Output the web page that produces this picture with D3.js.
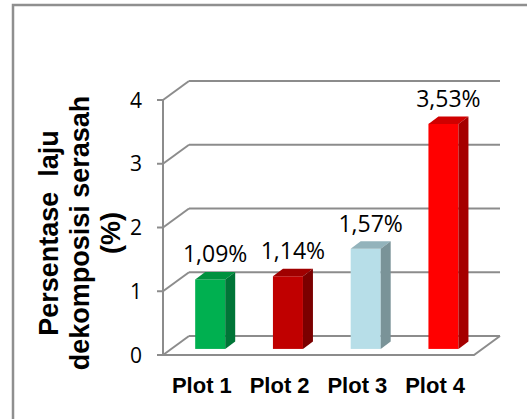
<!DOCTYPE html>
<html>
<head>
<meta charset="utf-8">
<script src="https://cdn.jsdelivr.net/npm/d3@7"></script>
<style>
    body { margin: 0; background: #fff; }
    svg { display: block; }
</style>
</head>
<body>
<script>
//chart data
var categories = ["Plot 1", "Plot 2", "Plot 3", "Plot 4"];
var values = [1.09, 1.14, 1.57, 3.53];
var valueLabels = ["1,09%", "1,14%", "1,57%", "3,53%"];
var yTicks = [0, 1, 2, 3, 4];
var titleLines = ["Persentase\u00a0 laju", "dekomposisi serasah", "(%)"];

//bar colours: front, top, side
var frontColors = ["#00b050", "#c00000", "#b7dee8", "#ff0000"];
var topColors = ["#00913f", "#a00000", "#93b3bb", "#d00000"];
var sideColors = ["#007537", "#7b0000", "#7a9398", "#a50000"];

window.onload = drawChart();

function drawChart(){
    var width = 527,
        height = 419;

    var svg = d3.select("body")
        .append("svg")
        .attr("width", width)
        .attr("height", height);

    //outer chart frame
    svg.append("rect")
        .attr("x", 13)
        .attr("y", 5)
        .attr("width", 600)
        .attr("height", 600)
        .attr("fill", "none")
        .attr("stroke", "#8f8f8f")
        .attr("stroke-width", 2.5);

    //3d depth offset of the back wall
    var depthX = 26,
        depthY = 19;

    var x = d3.scaleBand()
        .domain(categories)
        .range([163, 474]);

    var xBar = d3.scaleBand()
        .domain(categories)
        .range([163, 474])
        .paddingInner(0.614)
        .paddingOuter(0.307);

    var y = d3.scaleLinear()
        .domain([0, 4])
        .range([355, 100]);

    var gridColor = "#8c8c8c";

    //back wall grid lines + side diagonals
    var grid = svg.append("g").attr("class", "grid");

    grid.selectAll(".back")
        .data(yTicks)
        .enter()
        .append("line")
        .attr("x1", x.range()[0] + depthX)
        .attr("x2", x.range()[1] + depthX)
        .attr("y1", function(d){ return y(d) - depthY; })
        .attr("y2", function(d){ return y(d) - depthY; })
        .attr("stroke", gridColor)
        .attr("stroke-width", 2);

    grid.selectAll(".diag")
        .data(yTicks)
        .enter()
        .append("line")
        .attr("x1", x.range()[0])
        .attr("x2", x.range()[0] + depthX)
        .attr("y1", function(d){ return y(d); })
        .attr("y2", function(d){ return y(d) - depthY; })
        .attr("stroke", gridColor)
        .attr("stroke-width", 2);

    //floor front edge and right edge
    grid.append("path")
        .attr("d", d3.line()([
            [x.range()[0], y(0)],
            [x.range()[1], y(0)],
            [x.range()[1] + depthX, y(0) - depthY]
        ]))
        .attr("fill", "none")
        .attr("stroke", gridColor)
        .attr("stroke-width", 2);

    //front value axis
    grid.append("line")
        .attr("x1", x.range()[0])
        .attr("x2", x.range()[0])
        .attr("y1", y(0))
        .attr("y2", y(4))
        .attr("stroke", gridColor)
        .attr("stroke-width", 2);

    grid.selectAll(".tick")
        .data(yTicks)
        .enter()
        .append("line")
        .attr("x1", x.range()[0] - 6)
        .attr("x2", x.range()[0])
        .attr("y1", function(d){ return y(d); })
        .attr("y2", function(d){ return y(d); })
        .attr("stroke", gridColor)
        .attr("stroke-width", 2);

    svg.selectAll(".ytick")
        .data(yTicks)
        .enter()
        .append("text")
        .attr("x", 142)
        .attr("y", function(d){ return y(d); })
        .attr("dy", "0.36em")
        .attr("text-anchor", "end")
        .style("font-family", "'Open Sans', sans-serif")
        .style("font-size", "21px")
        .attr("fill", "#000")
        .text(function(d){ return d; });

    //bars sit part way into the floor depth
    var barDepth = 0.32,
        sideX = 10,
        sideY = 7.5;
    var bx = barDepth * depthX,
        by = barDepth * depthY;

    var bars = svg.selectAll(".bar")
        .data(categories)
        .enter()
        .append("g")
        .attr("class", "bar");

    bars.append("rect")
        .attr("x", function(d){ return xBar(d) + bx; })
        .attr("y", function(d, i){ return y(values[i]) - by; })
        .attr("width", xBar.bandwidth())
        .attr("height", function(d, i){ return y(0) - y(values[i]); })
        .attr("fill", function(d, i){ return frontColors[i]; });

    bars.append("path")
        .attr("d", function(d, i){
            var l = xBar(d) + bx,
                r = l + xBar.bandwidth(),
                t = y(values[i]) - by;
            return d3.line()([[l, t], [l + sideX, t - sideY], [r + sideX, t - sideY], [r, t]]) + "Z";
        })
        .attr("fill", function(d, i){ return topColors[i]; });

    bars.append("path")
        .attr("d", function(d, i){
            var r = xBar(d) + bx + xBar.bandwidth(),
                t = y(values[i]) - by,
                b = y(0) - by;
            return d3.line()([[r, t], [r + sideX, t - sideY], [r + sideX, b - sideY], [r, b]]) + "Z";
        })
        .attr("fill", function(d, i){ return sideColors[i]; });

    //value labels
    svg.selectAll(".vlabel")
        .data(categories)
        .enter()
        .append("text")
        .attr("x", function(d){ return xBar(d) + bx + xBar.bandwidth() / 2 + 5; })
        .attr("y", function(d, i){ return y(values[i]) - by - 17; })
        .attr("text-anchor", "middle")
        .style("font-family", "'Open Sans', sans-serif")
        .style("font-size", "23px")
        .attr("fill", "#000")
        .text(function(d, i){ return valueLabels[i]; });

    //category labels
    svg.selectAll(".xlabel")
        .data(categories)
        .enter()
        .append("text")
        .attr("x", function(d){ return x(d) + x.bandwidth() / 2; })
        .attr("y", 393)
        .attr("text-anchor", "middle")
        .style("font-family", "'Liberation Sans', Arial, sans-serif")
        .style("font-weight", "bold")
        .style("font-size", "22px")
        .attr("fill", "#000")
        .text(function(d){ return d; });

    //y axis title
    svg.selectAll(".ytitle")
        .data(titleLines)
        .enter()
        .append("text")
        .attr("transform", function(d, i){ return "translate(" + (58 + i * 31) + ",233) rotate(-90)"; })
        .attr("text-anchor", "middle")
        .style("font-family", "'Liberation Sans', Arial, sans-serif")
        .style("font-weight", "bold")
        .style("font-size", "27px")
        .attr("fill", "#000")
        .text(function(d){ return d; });
};
</script>
</body>
</html>
